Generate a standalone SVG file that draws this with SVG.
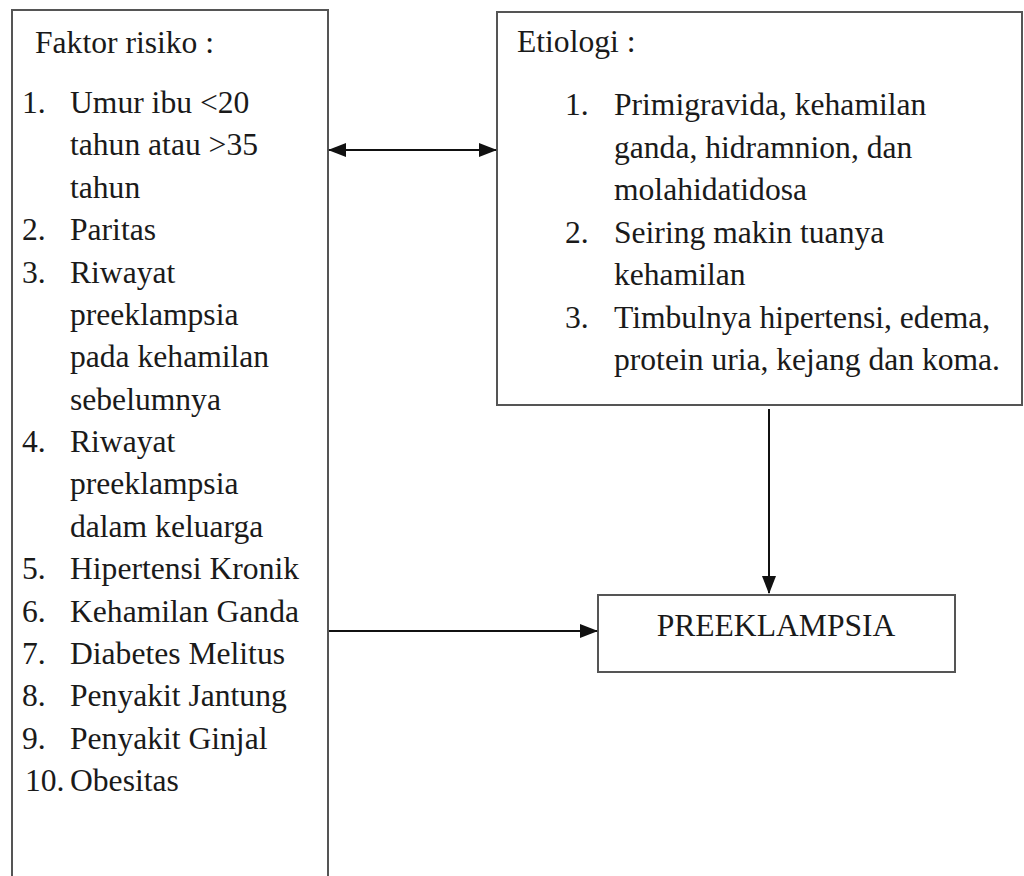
<svg xmlns="http://www.w3.org/2000/svg" width="1024" height="876" viewBox="0 0 1024 876">
<style>
.box{fill:#fff;stroke:#555;stroke-width:2}
.t{font-size:31.6px;fill:#1a1a1a}
.c{stroke:#111;stroke-width:2;fill:none}
</style>
<defs>
<marker id="a" viewBox="0 0 18 14" refX="17" refY="7" markerWidth="18" markerHeight="14" markerUnits="userSpaceOnUse" orient="auto-start-reverse">
<path d="M0,0 L18,7 L0,14 z" fill="#111"/>
</marker>
</defs>
<rect width="1024" height="876" fill="#fff"/>
<g font-family="Liberation Serif, Times New Roman, DejaVu Serif, serif">
<g id="faktor">
<rect class="box" x="12" y="10" width="316" height="880"/>
<text class="t" x="35" y="53">Faktor risiko :</text>
<text class="t" x="22" y="113">1.</text><text class="t" x="70" y="113">Umur ibu &lt;20</text>
<text class="t" x="70" y="155">tahun atau &gt;35</text>
<text class="t" x="70" y="198">tahun</text>
<text class="t" x="22" y="240">2.</text><text class="t" x="70" y="240">Paritas</text>
<text class="t" x="22" y="283">3.</text><text class="t" x="70" y="283">Riwayat</text>
<text class="t" x="70" y="325">preeklampsia</text>
<text class="t" x="70" y="367">pada kehamilan</text>
<text class="t" x="70" y="410">sebelumnya</text>
<text class="t" x="22" y="452">4.</text><text class="t" x="70" y="452">Riwayat</text>
<text class="t" x="70" y="494">preeklampsia</text>
<text class="t" x="70" y="537">dalam keluarga</text>
<text class="t" x="22" y="579">5.</text><text class="t" x="70" y="579">Hipertensi Kronik</text>
<text class="t" x="22" y="622">6.</text><text class="t" x="70" y="622">Kehamilan Ganda</text>
<text class="t" x="22" y="664">7.</text><text class="t" x="70" y="664">Diabetes Melitus</text>
<text class="t" x="22" y="706">8.</text><text class="t" x="70" y="706">Penyakit Jantung</text>
<text class="t" x="22" y="749">9.</text><text class="t" x="70" y="749">Penyakit Ginjal</text>
<text class="t" x="25" y="791">10.</text><text class="t" x="70" y="791">Obesitas</text>
</g>
<g id="etiologi">
<rect class="box" x="497" y="12" width="525" height="393"/>
<text class="t" x="517" y="52">Etiologi :</text>
<text class="t" x="565" y="115">1.</text><text class="t" x="614" y="115">Primigravida, kehamilan</text>
<text class="t" x="614" y="158">ganda, hidramnion, dan</text>
<text class="t" x="614" y="200">molahidatidosa</text>
<text class="t" x="565" y="243">2.</text><text class="t" x="614" y="243">Seiring makin tuanya</text>
<text class="t" x="614" y="285">kehamilan</text>
<text class="t" x="565" y="328">3.</text><text class="t" x="614" y="328">Timbulnya hipertensi, edema,</text>
<text class="t" x="614" y="370">protein uria, kejang dan koma.</text>
</g>
<g id="preeklampsia">
<rect class="box" x="598" y="595" width="357" height="77"/>
<text class="t" x="776" y="636" text-anchor="middle">PREEKLAMPSIA</text>
</g>
</g>
<g id="connectors">
<line class="c" x1="329" y1="150" x2="496" y2="150" stroke-width="2.5" marker-start="url(#a)" marker-end="url(#a)"/>
<line class="c" x1="769" y1="409" x2="769" y2="593" marker-end="url(#a)"/>
<line class="c" x1="329" y1="631" x2="597" y2="631" marker-end="url(#a)"/>
</g>
</svg>
